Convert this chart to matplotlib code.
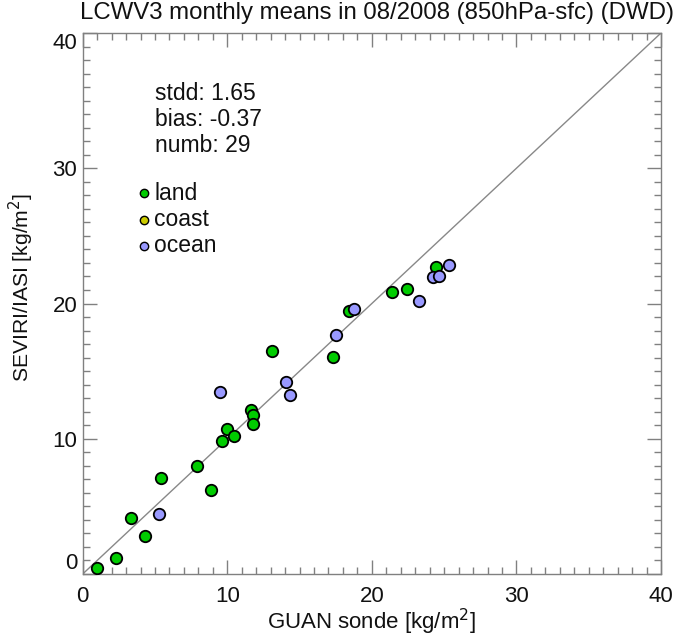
import matplotlib
matplotlib.use("Agg")
import matplotlib.pyplot as plt
from matplotlib.ticker import MultipleLocator

plt.rcParams['font.family'] = ['Liberation Sans', 'DejaVu Sans']

# ---- data ----
land_x = [1.01, 2.30, 3.32, 4.33, 5.44, 7.88, 8.85, 9.63, 10.00, 10.49,
          11.62, 11.80, 11.76, 13.11, 17.29, 18.42, 21.37, 22.41, 24.41]
land_y = [0.42, 1.18, 4.12, 2.79, 7.10, 7.96, 6.19, 9.84, 10.72, 10.23,
          12.13, 11.78, 11.12, 16.49, 16.07, 19.48, 20.88, 21.08, 22.73]
ocean_x = [5.30, 9.50, 14.06, 14.34, 17.50, 18.74, 23.26, 24.20, 24.66, 25.31]
ocean_y = [4.41, 13.46, 14.18, 13.26, 17.70, 19.62, 20.21, 21.99, 22.06, 22.83]

categories = ['land', 'coast', 'ocean']
cat_colors = ['#00cc00', '#cccc00', '#9999ff']
stats_lines = ['stdd: 1.65', 'bias: -0.37', 'numb: 29']
ticks = [0, 10, 20, 30, 40]
title = 'LCWV3 monthly means in 08/2008 (850hPa-sfc) (DWD)'
xlabel = 'GUAN sonde [kg/m$^2$]'
ylabel = 'SEVIRI/IASI [kg/m$^2$]'

W, H = 675, 636
fig = plt.figure(figsize=(W / 100, H / 100), dpi=100)
x0, x1, y0, y1 = 82.7, 661, 574, 33
ax = fig.add_axes([x0 / W, 1 - y0 / H, (x1 - x0) / W, (y0 - y1) / H])

gray = '#808080'
ax.plot([0, 40], [0, 40], color='#888888', lw=1.0, zorder=1)

ax.scatter(land_x, land_y, s=68, c=cat_colors[0], edgecolors='black',
           linewidths=1.3, zorder=3)
ax.scatter(ocean_x, ocean_y, s=68, c=cat_colors[2], edgecolors='black',
           linewidths=1.3, zorder=4)

ax.set_xlim(0, 40)
ax.set_ylim(0, 40)
ax.set_xticks(ticks)
ax.set_yticks(ticks)
ax.set_xticklabels([str(t) for t in ticks])
ax.set_yticklabels([str(t) for t in ticks])
ax.xaxis.set_minor_locator(MultipleLocator(1))
ax.yaxis.set_minor_locator(MultipleLocator(1))
ax.tick_params(which='both', direction='in', top=True, right=True,
               color=gray, width=1.0, labelsize=16, labelcolor='#111111')
ax.tick_params(which='major', length=10)
ax.tick_params(which='minor', length=5)
ax.tick_params(axis='x', pad=9)
ax.tick_params(axis='y', pad=4)
for sp in ax.spines.values():
    sp.set_color(gray)
    sp.set_linewidth(1.0)

ylabs = ax.get_yticklabels()
ylabs[0].set_verticalalignment('bottom')
ylabs[-1].set_verticalalignment('top')

fig.text(377 / W, 1 - 13 / H, title, ha='center', va='center',
         fontsize=17.3, color='#111111')
fig.text(372 / W, 1 - 622 / H, xlabel, ha='center', va='center',
         fontsize=16, color='#111111')
fig.text(21 / W, 1 - 287 / H, ylabel, ha='center', va='center',
         rotation=90, fontsize=15.2, color='#111111')

def ax_frac_x(px):
    return (px - x0) / (x1 - x0)

def ax_frac_y(py):
    return (y0 - py) / (y0 - y1)

for i, line in enumerate(stats_lines):
    ax.text(ax_frac_x(155), ax_frac_y(93 + 26.5 * i), line,
            transform=ax.transAxes, ha='left', va='center', fontsize=16.5,
            color='#111111')

for i, (cat, col) in enumerate(zip(categories, cat_colors)):
    yy = ax_frac_y(193 + 26.5 * i)
    ax.scatter([ax_frac_x(144)], [yy], s=36, c=col, edgecolors='black',
               linewidths=1.0, transform=ax.transAxes, zorder=5, clip_on=False)
    ax.text(ax_frac_x(154), yy, cat, transform=ax.transAxes, ha='left',
            va='center', fontsize=16.5, color='#111111')

fig.savefig('out.png', dpi=100)
